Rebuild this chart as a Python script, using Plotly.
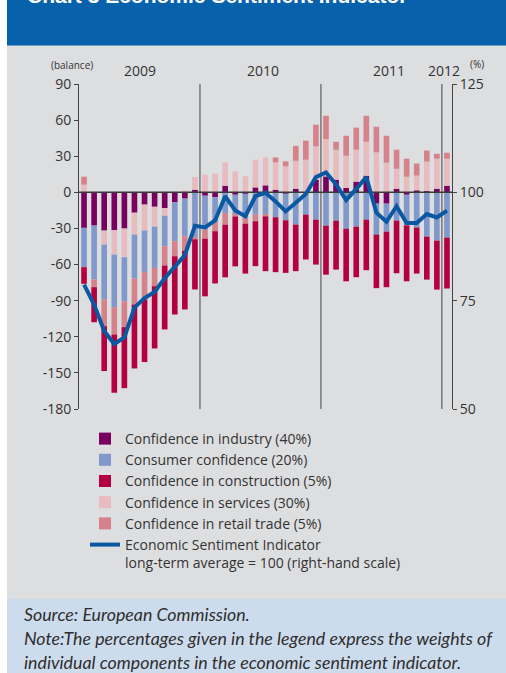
import plotly.graph_objects as go

# ---------------- data ----------------
months = ["2009-01", "2009-02", "2009-03", "2009-04", "2009-05", "2009-06",
          "2009-07", "2009-08", "2009-09", "2009-10", "2009-11", "2009-12",
          "2010-01", "2010-02", "2010-03", "2010-04", "2010-05", "2010-06",
          "2010-07", "2010-08", "2010-09", "2010-10", "2010-11", "2010-12",
          "2011-01", "2011-02", "2011-03", "2011-04", "2011-05", "2011-06",
          "2011-07", "2011-08", "2011-09", "2011-10", "2011-11", "2011-12",
          "2012-01"]

industry = [-29.5, -27.6, -31.8, -31.5, -30.1, -16.9, -10.2, -12.0, -13.0, -8.3, -5.2, 2.2,
            -2.8, -4.1, 5.5, -2.0, -1.1, 4.1, 5.8, 2.2, -1.0, 3.0, 0.0, 10.5,
            13.2, 10.5, 3.6, 8.9, 13.8, -9.4, -9.4, 3.0, -2.0, 1.7, 1.0, 3.0, 5.5]
services = [6.4, 0.0, -11.6, -20.2, -23.8, -18.2, -21.6, -16.5, -6.4, 0.0, 1.5, 10.5,
            14.7, 15.5, 19.4, 17.4, 13.3, 23.0, 23.2, 22.7, 21.6, 23.2, 27.1, 27.7,
            31.0, 24.9, 26.8, 26.6, 28.2, 33.2, 24.6, 16.6, 13.0, 12.2, 24.6, 24.9, 22.4]
consumer = [-32.7, -44.8, -45.6, -43.7, -36.5, -36.5, -34.3, -34.3, -25.4, -32.3, -31.3, -37.0,
            -28.2, -20.7, -17.2, -16.6, -20.2, -18.5, -18.5, -20.7, -22.2, -26.8, -18.5, -22.7,
            -27.7, -23.5, -30.2, -28.5, -22.7, -25.7, -23.2, -23.5, -25.4, -29.3, -36.8, -40.1, -37.6]
retail = [6.6, -6.4, -22.2, -22.7, -21.6, -21.6, -22.9, -15.2, -16.0, -12.5, -12.0, -2.0,
          -7.5, -7.5, -9.7, -1.4, -4.7, -5.5, -1.4, 4.1, 4.1, 12.4, 15.8, 18.0,
          19.4, 6.6, 16.6, 18.3, 21.6, 21.3, 22.4, 15.8, 14.9, 10.0, 9.1, 4.1, 5.0]
construction = [-13.8, -29.1, -37.3, -48.4, -50.7, -53.1, -52.0, -51.7, -53.1, -48.4, -48.8, -41.7,
                -47.9, -43.4, -43.7, -41.5, -41.5, -37.3, -45.6, -45.6, -43.7, -38.7, -37.3, -37.3,
                -40.7, -40.7, -43.7, -42.0, -42.0, -44.5, -46.2, -43.7, -46.5, -38.2, -35.7, -40.7, -42.3]
esi = [78.7, 74.1, 68.0, 65.0, 66.5, 73.4, 75.6, 77.0, 80.2, 82.7, 85.5, 92.3,
       91.9, 93.5, 99.1, 95.8, 94.5, 99.1, 99.9, 97.9, 95.6, 97.6, 99.6, 103.5,
       104.6, 101.8, 98.2, 100.8, 103.5, 95.3, 93.2, 96.8, 92.9, 92.9, 95.0, 94.2, 95.8]

left_ticks = [90, 60, 30, 0, -30, -60, -90, -120, -150, -180]
left_tick_labels = ["90", "60", "30", "0", "-30", "-60", "-90", "-120", "-150", "-180"]
right_ticks = [125, 100, 75, 50]
right_tick_labels = ["125", "100", "75", "50"]
year_labels = ["2009", "2010", "2011", "2012"]
year_breaks = [11.5, 23.5, 35.5]

names = {
    "industry": "Confidence in industry (40%)",
    "consumer": "Consumer confidence (20%)",
    "construction": "Confidence in construction (5%)",
    "services": "Confidence in services (30%)",
    "retail": "Confidence in retail trade (5%)",
    "esi": "Economic Sentiment Indicator<br>long-term average = 100 (right-hand scale)",
}

# month positions on the x scale (one slot per month)
xpos = list(range(len(months)))
x_lo, x_hi = -0.5, len(months) - 0.5

# ---------------- layout geometry ----------------
W, H = 506, 673
L, R, T, B = 79, 54, 84, 264
PW, PH = W - L - R, H - T - B

def px(xp):
    return (xp - L) / PW

def py(yp):
    return (H - B - yp) / PH

FONT = "Open Sans, Liberation Sans, Arial, sans-serif"
TXT = "#333333"

C_IND = "#7A0060"
C_CON = "#8098CA"
C_CST = "#B50040"
C_SRV = "#E8BBBE"
C_RET = "#D6828A"
C_ESI = "#0B58A2"

fig = go.Figure()

bar_specs = [
    (industry, names["industry"], C_IND, 1),
    (services, names["services"], C_SRV, 4),
    (consumer, names["consumer"], C_CON, 2),
    (retail, names["retail"], C_RET, 5),
    (construction, names["construction"], C_CST, 3),
]
for vals, nm, col, rank in bar_specs:
    fig.add_trace(go.Bar(x=xpos, y=vals, name=nm, customdata=months,
                         hovertemplate="%{customdata}: %{y}<extra>" + nm + "</extra>",
                         marker=dict(color=col, line=dict(width=0)),
                         legendrank=rank, yaxis="y"))

# zero line drawn over the bars but under the ESI line
fig.add_trace(go.Scatter(x=[x_lo, x_hi], y=[0, 0], mode="lines",
                         line=dict(color="#3a3a3a", width=1.5), showlegend=False,
                         hoverinfo="skip", yaxis="y", cliponaxis=False))

fig.add_trace(go.Scatter(x=xpos, y=esi, name=names["esi"], mode="lines", customdata=months,
                         hovertemplate="%{customdata}: %{y}<extra>ESI</extra>",
                         line=dict(color=C_ESI, width=4), yaxis="y2", legendrank=6))

shapes = [
    # header band
    dict(type="rect", xref="paper", yref="paper", x0=px(7), x1=px(W + 5), y0=py(-5), y1=py(45.7),
         fillcolor="#0761AB", line=dict(width=0), layer="below"),
    # grey panel
    dict(type="rect", xref="paper", yref="paper", x0=px(7), x1=px(W + 5), y0=py(45.7), y1=py(599),
         fillcolor="#DDDEE0", line=dict(width=0), layer="below"),
    # note band
    dict(type="rect", xref="paper", yref="paper", x0=px(7), x1=px(W + 5), y0=py(599), y1=py(H + 5),
         fillcolor="#CDDCED", line=dict(width=0), layer="below"),
]
for xb in year_breaks:
    shapes.append(dict(type="line", xref="x", yref="paper", x0=xb, x1=xb, y0=0, y1=1,
                       line=dict(color="#444444", width=1), layer="below"))

annotations = [
    dict(text="<b>Chart 3 Economic Sentiment Indicator</b>", xref="paper", yref="paper",
         x=px(25), y=py(9), xanchor="left", yanchor="bottom", showarrow=False,
         font=dict(family="Liberation Sans, Arial, sans-serif", size=21, color="white")),
    dict(text="(balance)", xref="paper", yref="paper", x=px(72), y=py(65), xanchor="center",
         yanchor="middle", showarrow=False, font=dict(family=FONT, size=10, color=TXT)),
    dict(text="(%)", xref="paper", yref="paper", x=px(477), y=py(64), xanchor="center",
         yanchor="middle", showarrow=False, font=dict(family=FONT, size=10, color=TXT)),
]
for lab, xc in zip(year_labels, [140, 262.5, 389, 444]):
    annotations.append(dict(text=lab, xref="paper", yref="paper", x=px(xc), y=py(71),
                            xanchor="center", yanchor="middle", showarrow=False,
                            font=dict(family=FONT, size=14, color=TXT)))

note_lines = ["Source: European Commission.",
              "Note:The percentages given in the legend express the weights of",
              "individual components in the economic sentiment indicator."]
for line, yc in zip(note_lines, [614, 638, 662]):
    annotations.append(dict(text="<i>" + line + "</i>", xref="paper", yref="paper", x=px(22), y=py(yc),
                            xanchor="left", yanchor="middle", showarrow=False,
                            font=dict(family="Lato, Open Sans, sans-serif", size=17.8, color="#2e2e2e")))

fig.update_layout(
    width=W, height=H, autosize=False,
    margin=dict(l=L, r=R, t=T, b=B, pad=0),
    paper_bgcolor="white", plot_bgcolor="rgba(0,0,0,0)",
    barmode="relative", bargap=0.44,
    font=dict(family=FONT, color=TXT, size=14),
    showlegend=True,
    legend=dict(x=px(85), y=py(423), xanchor="left", yanchor="top", bgcolor="rgba(0,0,0,0)",
                font=dict(family=FONT, size=14, color=TXT), valign="top", borderwidth=0,
                tracegroupgap=0),
    xaxis=dict(range=[x_lo, x_hi], showticklabels=False, ticks="",
               showgrid=False, zeroline=False, showline=False, fixedrange=True),
    yaxis=dict(range=[-180, 90], tickvals=left_ticks, ticktext=left_tick_labels, ticks="outside",
               ticklen=4, tickcolor="#444444", showline=True, linecolor="#444444", linewidth=1,
               showgrid=False, zeroline=False, tickfont=dict(family=FONT, size=14, color=TXT)),
    yaxis2=dict(range=[50, 125], overlaying="y", side="right", tickvals=right_ticks,
                ticktext=right_tick_labels, ticks="outside", ticklen=4, tickcolor="#444444",
                showline=True, linecolor="#444444", linewidth=1, showgrid=False, zeroline=False,
                tickfont=dict(family=FONT, size=14, color=TXT)),
    shapes=shapes, annotations=annotations,
)

fig.write_html("out.html", config={"displayModeBar": False},
               post_script="document.body.style.margin='0';document.body.style.overflow='hidden';")
